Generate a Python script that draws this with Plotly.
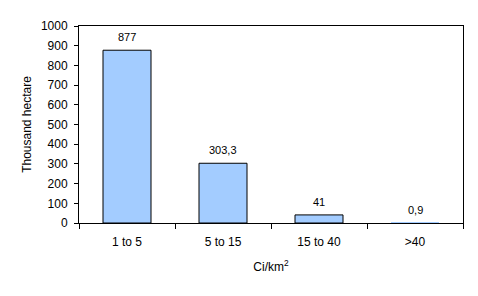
import plotly.graph_objects as go

categories = ["1 to 5", "5 to 15", "15 to 40", ">40"]
values = [877, 303.3, 41, 0.9]
value_labels = ["877", "303,3", "41", "0,9"]
y_ticks = list(range(0, 1001, 100))

fig = go.Figure(go.Bar(
    x=categories, y=values,
    marker=dict(color="#a3ccff", line=dict(color="black", width=[1, 1, 1, 0])),
    width=0.5,
))

for c, v, t in zip(categories, values, value_labels):
    fig.add_annotation(x=c, y=v, text=t, showarrow=False, yanchor="bottom",
                       yshift=5, font=dict(family="Arial", size=11, color="black"))

fig.update_layout(
    width=478, height=296,
    margin=dict(l=79, r=15, t=26, b=73),
    paper_bgcolor="white", plot_bgcolor="white",
    font=dict(family="Arial", size=12, color="black"),
    showlegend=False,
)
fig.update_xaxes(
    type="category", range=[-0.5, 3.5], showline=True, linecolor="black", linewidth=1,
    mirror=True, ticks="outside", ticklen=5, tickcolor="black", tickson="boundaries",
    showgrid=False, ticklabelstandoff=8,
    title=dict(text="Ci/km<sup>2</sup>", standoff=14, font=dict(size=12)),
)
fig.update_yaxes(
    range=[0, 1000], tickvals=y_ticks, showline=True, linecolor="black", linewidth=1,
    mirror=True, ticks="outside", ticklen=4, tickcolor="black", showgrid=False,
    zeroline=False, ticklabelstandoff=4,
    title=dict(text="Thousand hectare", standoff=6, font=dict(size=12)),
)
fig.write_html("out.html")
